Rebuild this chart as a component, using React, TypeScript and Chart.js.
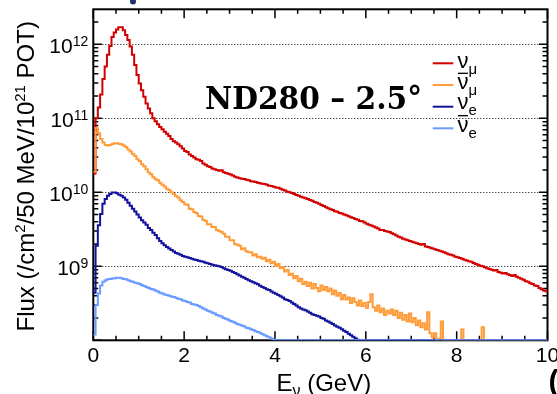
import React, { useEffect, useRef } from "react";
import { Chart, registerables } from "chart.js";

Chart.register(...registerables);

// ---------- data (flux per 50 MeV bin, bins start at 0 GeV) ----------
const BIN_WIDTH = 0.05; // GeV
const X_MIN = 0;
const X_MAX = 10;
const Y_MIN = 1e8;
const Y_MAX = 2.97e12;

const numuFlux = [
  1.8e10, 1.0e11, 1.4e11, 2.1e11, 3.4e11, 5.0e11, 7.2e11, 9.5e11, 1.25e12, 1.44e12,
  1.58e12, 1.7e12, 1.7e12, 1.55e12, 1.34e12, 1.14e12, 9.3e11, 7.2e11, 5.25e11, 3.85e11,
  2.95e11, 2.4e11, 1.95e11, 1.58e11, 1.36e11, 1.17e11, 1.0e11, 9.1e10, 8.3e10, 7.6e10,
  7.1e10, 6.6e10, 6.2e10, 5.75e10, 5.25e10, 4.9e10, 4.7e10, 4.45e10, 4.2e10, 3.9e10,
  3.6e10, 3.5e10, 3.25e10, 3.1e10, 2.95e10, 2.8e10, 2.75e10, 2.65e10, 2.45e10, 2.35e10,
  2.25e10, 2.2e10, 2.1e10, 2.05e10, 2.0e10, 1.95e10, 1.98e10, 1.86e10, 1.82e10, 1.78e10,
  1.74e10, 1.68e10, 1.62e10, 1.58e10, 1.55e10, 1.53e10, 1.51e10, 1.48e10, 1.45e10, 1.41e10,
  1.4e10, 1.38e10, 1.35e10, 1.32e10, 1.3e10, 1.29e10, 1.26e10, 1.23e10, 1.22e10, 1.19e10,
  1.16e10, 1.15e10, 1.12e10, 1.08e10, 1.06e10, 1.02e10, 1.0e10, 9.8e9, 9.45e9, 9.2e9,
  9.0e9, 8.7e9, 8.5e9, 8.3e9, 8.1e9, 7.85e9, 7.7e9, 7.4e9, 7.25e9, 7.0e9,
  6.75e9, 6.55e9, 6.3e9, 6.1e9, 5.9e9, 5.75e9, 5.55e9, 5.45e9, 5.25e9, 5.15e9,
  5.0e9, 4.9e9, 4.75e9, 4.6e9, 4.5e9, 4.35e9, 4.25e9, 4.1e9, 4.05e9, 3.9e9,
  3.75e9, 3.65e9, 3.55e9, 3.45e9, 3.35e9, 3.25e9, 3.1e9, 3.1e9, 3.0e9, 2.95e9,
  2.9e9, 2.8e9, 2.7e9, 2.6e9, 2.5e9, 2.45e9, 2.35e9, 2.3e9, 2.25e9, 2.2e9,
  2.15e9, 2.1e9, 2.05e9, 2.0e9, 1.95e9, 2.0e9, 1.85e9, 1.82e9, 1.78e9, 1.74e9,
  1.7e9, 1.66e9, 1.62e9, 1.58e9, 1.55e9, 1.5e9, 1.46e9, 1.43e9, 1.4e9, 1.35e9,
  1.32e9, 1.29e9, 1.26e9, 1.23e9, 1.2e9, 1.17e9, 1.15e9, 1.11e9, 1.07e9, 1.05e9,
  1.02e9, 1.0e9, 9.7e8, 9.4e8, 9.2e8, 9.0e8, 8.8e8, 8.9e8, 8.4e8, 8.2e8,
  8.0e8, 8.1e8, 7.8e8, 7.6e8, 7.4e8, 7.6e8, 7.2e8, 7.0e8, 6.8e8, 6.6e8,
  6.3e8, 6.2e8, 5.9e8, 5.75e8, 5.5e8, 5.4e8, 5.1e8, 4.9e8, 4.7e8, 4.6e8,
];

const numubarFlux = [
  1.9e10, 7.4e10, 6.3e10, 5.25e10, 4.7e10, 4.35e10, 4.3e10, 4.35e10, 4.5e10, 4.6e10,
  4.6e10, 4.5e10, 4.45e10, 4.3e10, 4.1e10, 3.8e10, 3.55e10, 3.3e10, 3.1e10, 2.8e10,
  2.65e10, 2.4e10, 2.25e10, 2.05e10, 1.85e10, 1.75e10, 1.6e10, 1.5e10, 1.45e10, 1.35e10,
  1.26e10, 1.2e10, 1.12e10, 1.07e10, 1.0e10, 9.5e9, 8.9e9, 8.5e9, 7.8e9, 7.4e9,
  6.9e9, 6.8e9, 6.0e9, 5.9e9, 5.4e9, 5.25e9, 4.8e9, 4.7e9, 4.25e9, 4.1e9,
  3.7e9, 3.7e9, 3.4e9, 3.4e9, 3.1e9, 3.0e9, 2.9e9, 2.75e9, 2.5e9, 2.5e9,
  2.25e9, 2.25e9, 2.0e9, 1.95e9, 1.9e9, 1.7e9, 1.75e9, 1.6e9, 1.55e9, 1.55e9,
  1.4e9, 1.45e9, 1.32e9, 1.35e9, 1.26e9, 1.3e9, 1.17e9, 1.23e9, 1.1e9, 1.15e9,
  1.02e9, 1.07e9, 9.5e8, 9.8e8, 8.5e8, 8.9e8, 7.6e8, 7.9e8, 6.9e8, 7.4e8,
  6.3e8, 6.8e8, 5.75e8, 6.2e8, 5.4e8, 6.0e8, 5.0e8, 5.75e8, 5.1e8, 4.6e8,
  5.5e8, 4.8e8, 5.25e8, 4.6e8, 5.0e8, 4.2e8, 4.7e8, 4.0e8, 4.35e8, 3.6e8,
  4.1e8, 3.55e8, 3.8e8, 3.2e8, 3.7e8, 3.3e8, 2.95e8, 3.45e8, 2.9e8, 3.2e8,
  2.75e8, 3.3e8, 4.2e8, 2.8e8, 2.5e8, 2.95e8, 2.4e8, 2.7e8, 2.2e8, 2.5e8,
  2.3e8, 2.6e8, 2.2e8, 2.5e8, 2.0e8, 2.35e8, 1.9e8, 2.2e8, 1.8e8, 2.3e8,
  1.75e8, 2.0e8, 1.6e8, 1.85e8, 1.5e8, 1.7e8, 1.4e8, 2.4e8, 1.25e8, 1.1e8,
  1.25e8, 0, 1.05e8, 1.8e8, 0, 0, 0, 0, 0, 0,
  0, 0, 1.4e8, 0, 0, 0, 0, 0, 0, 0,
  0, 1.5e8,
];

const nueFlux = [
  4.4e8, 1.9e9, 3.6e9, 5.1e9, 7.0e9, 8.1e9, 9.0e9, 9.5e9, 9.9e9, 9.9e9,
  9.7e9, 9.3e9, 9.0e9, 8.5e9, 7.9e9, 7.25e9, 6.6e9, 6.0e9, 5.5e9, 5.0e9,
  4.55e9, 4.2e9, 3.9e9, 3.65e9, 3.3e9, 3.1e9, 2.85e9, 2.65e9, 2.4e9, 2.2e9,
  2.05e9, 1.93e9, 1.82e9, 1.74e9, 1.66e9, 1.58e9, 1.51e9, 1.48e9, 1.43e9, 1.38e9,
  1.35e9, 1.32e9, 1.29e9, 1.26e9, 1.24e9, 1.22e9, 1.19e9, 1.17e9, 1.15e9, 1.12e9,
  1.1e9, 1.07e9, 1.05e9, 1.03e9, 1.02e9, 1.0e9, 9.8e8, 9.4e8, 9.1e8, 8.9e8,
  8.7e8, 8.4e8, 8.1e8, 7.8e8, 7.5e8, 7.25e8, 7.0e8, 6.75e8, 6.5e8, 6.3e8,
  6.1e8, 5.9e8, 5.7e8, 5.45e8, 5.25e8, 5.1e8, 4.9e8, 4.8e8, 4.55e8, 4.4e8,
  4.25e8, 4.1e8, 3.95e8, 3.8e8, 3.6e8, 3.5e8, 3.4e8, 3.25e8, 3.1e8, 2.95e8,
  2.8e8, 2.7e8, 2.6e8, 2.55e8, 2.45e8, 2.35e8, 2.25e8, 2.2e8, 2.15e8, 2.1e8,
  2.0e8, 1.95e8, 1.85e8, 1.8e8, 1.72e8, 1.66e8, 1.58e8, 1.53e8, 1.48e8, 1.41e8,
  1.35e8, 1.29e8, 1.23e8, 1.17e8, 1.12e8, 1.07e8, 1.02e8,
];

const nuebarFlux = [
  1.2e8, 3.0e8, 4.3e8, 5.5e8, 6.2e8, 6.5e8, 6.7e8, 6.75e8, 6.85e8, 6.9e8,
  7.0e8, 7.0e8, 6.9e8, 6.75e8, 6.7e8, 6.5e8, 6.3e8, 6.2e8, 6.0e8, 5.9e8,
  5.75e8, 5.55e8, 5.4e8, 5.25e8, 5.1e8, 4.95e8, 4.85e8, 4.7e8, 4.55e8, 4.4e8,
  4.3e8, 4.15e8, 4.1e8, 4.0e8, 3.9e8, 3.85e8, 3.75e8, 3.65e8, 3.6e8, 3.45e8,
  3.4e8, 3.3e8, 3.25e8, 3.1e8, 3.05e8, 3.0e8, 2.9e8, 2.8e8, 2.7e8, 2.6e8,
  2.5e8, 2.45e8, 2.35e8, 2.3e8, 2.2e8, 2.15e8, 2.1e8, 2.0e8, 1.95e8, 1.9e8,
  1.82e8, 1.78e8, 1.72e8, 1.66e8, 1.62e8, 1.58e8, 1.55e8, 1.48e8, 1.45e8, 1.41e8,
  1.38e8, 1.33e8, 1.29e8, 1.26e8, 1.22e8, 1.17e8, 1.13e8, 1.1e8, 1.06e8, 1.02e8,
];

const seriesColors = ["#d20000", "#ff9b38", "#12129c", "#6a9cff"];
const legendSymbols = [
  { main: "ν", sub: "μ", bar: false },
  { main: "ν", sub: "μ", bar: true },
  { main: "ν", sub: "e", bar: false },
  { main: "ν", sub: "e", bar: true },
];
const xTickLabels = ["0", "2", "4", "6", "8", "10"];
const xTickValues = [0, 2, 4, 6, 8, 10];
const yTickValues = [1e9, 1e10, 1e11, 1e12];
const yTickExponents = ["9", "10", "11", "12"];
const yAxisTitle = [
  { t: "Flux (/cm", sup: false },
  { t: "2", sup: true },
  { t: "/50 MeV/10", sup: false },
  { t: "21", sup: true },
  { t: " POT)", sup: false },
];
const annotation = "ND280 – 2.5°";

const SANS = '"Liberation Sans", Arial, Helvetica, sans-serif';

function toPoints(values: number[]) {
  const nBins = Math.round((X_MAX - X_MIN) / BIN_WIDTH);
  const pts: { x: number; y: number }[] = [];
  for (let i = 0; i < nBins; i++) {
    const v = values[i] ?? 0;
    pts.push({ x: X_MIN + i * BIN_WIDTH, y: v > 0 ? v : Y_MIN });
  }
  pts.push({ x: X_MAX, y: pts[pts.length - 1].y });
  return pts;
}

const rootStyle = {
  id: "rootStyle",
  beforeDatasetsDraw(chart: any) {
    const { ctx, chartArea: a, scales } = chart;
    const x = scales.x;
    const y = scales.y;
    ctx.save();
    ctx.strokeStyle = "#000";
    ctx.lineWidth = 1;
    ctx.setLineDash([1, 2]);
    for (const v of yTickValues) {
      const py = Math.round(y.getPixelForValue(v)) + 0.5;
      ctx.beginPath();
      ctx.moveTo(a.left, py);
      ctx.lineTo(a.right, py);
      ctx.stroke();
    }
    ctx.setLineDash([]);
    ctx.lineWidth = 2;
    ctx.strokeRect(a.left, a.top, a.right - a.left, a.bottom - a.top);
    ctx.lineWidth = 1.5;
    for (let k = 0; k <= 20; k++) {
      const v = X_MIN + k * 0.5;
      const px = x.getPixelForValue(v);
      const len = k % 4 === 0 ? 9 : 4.5;
      ctx.beginPath();
      ctx.moveTo(px, a.bottom);
      ctx.lineTo(px, a.bottom - len);
      ctx.moveTo(px, a.top);
      ctx.lineTo(px, a.top + len);
      ctx.stroke();
    }
    for (let e = 8; e <= 12; e++) {
      for (let m = 1; m <= 9; m++) {
        const v = m * Math.pow(10, e);
        if (v < Y_MIN || v > Y_MAX) continue;
        const py = y.getPixelForValue(v);
        const len = m === 1 ? 8.5 : 5;
        ctx.beginPath();
        ctx.moveTo(a.left, py);
        ctx.lineTo(a.left + len, py);
        ctx.moveTo(a.right, py);
        ctx.lineTo(a.right - len, py);
        ctx.stroke();
      }
    }
    ctx.restore();
  },
  afterDraw(chart: any) {
    const { ctx, chartArea: a, scales } = chart;
    const x = scales.x;
    const y = scales.y;
    ctx.save();
    ctx.fillStyle = "#000";
    ctx.textBaseline = "alphabetic";
    yTickValues.forEach((v, i) => {
      const py = y.getPixelForValue(v);
      ctx.font = `21px ${SANS}`;
      const w1 = ctx.measureText("10").width;
      ctx.font = `14px ${SANS}`;
      const w2 = ctx.measureText(yTickExponents[i]).width;
      const x0 = a.left - 5 - w1 - w2;
      ctx.font = `21px ${SANS}`;
      ctx.textAlign = "left";
      ctx.fillText("10", x0, py + 8.5);
      ctx.font = `14px ${SANS}`;
      ctx.fillText(yTickExponents[i], x0 + w1, py + 2);
    });
    ctx.font = `21px ${SANS}`;
    ctx.textAlign = "center";
    xTickValues.forEach((v, i) => {
      ctx.fillText(xTickLabels[i], x.getPixelForValue(v), a.bottom + 21.5);
    });
    ctx.textAlign = "left";
    let cx = 276.5;
    const xb = 390.5;
    ctx.font = `24px ${SANS}`;
    ctx.fillText("E", cx, xb);
    cx += ctx.measureText("E").width;
    ctx.font = `16px ${SANS}`;
    ctx.fillText("ν", cx, xb + 5);
    cx += ctx.measureText("ν").width;
    ctx.font = `24px ${SANS}`;
    ctx.fillText(" (GeV)", cx, xb);
    ctx.save();
    ctx.translate(33.5, 331.5);
    ctx.rotate(-Math.PI / 2);
    let tx = 0;
    for (const p of yAxisTitle) {
      ctx.font = p.sup ? `15px ${SANS}` : `24px ${SANS}`;
      ctx.fillText(p.t, tx, p.sup ? -9 : 0);
      tx += ctx.measureText(p.t).width;
    }
    ctx.restore();
    // annotation: bold serif, 32px tall, fitted to the reference width
    ctx.save();
    ctx.font = `bold 32px "DejaVu Serif", serif`;
    const aw = ctx.measureText(annotation).width;
    ctx.translate(205, 109.3);
    ctx.scale(217 / aw, 1);
    ctx.fillText(annotation, 0, 0);
    ctx.restore();
    // legend
    const lineY = [63.3, 85, 106.7, 128.3];
    const baseY = [68.3, 89.3, 108.8, 131.7];
    legendSymbols.forEach((s, i) => {
      ctx.strokeStyle = seriesColors[i];
      ctx.lineWidth = 2;
      ctx.beginPath();
      ctx.moveTo(432.7, lineY[i]);
      ctx.lineTo(453.3, lineY[i]);
      ctx.stroke();
      ctx.fillStyle = "#000";
      ctx.font = `22px ${SANS}`;
      const lx = 457.5;
      ctx.fillText(s.main, lx, baseY[i]);
      const mw = ctx.measureText(s.main).width;
      if (s.bar) {
        ctx.strokeStyle = "#000";
        ctx.lineWidth = 1.3;
        ctx.beginPath();
        ctx.moveTo(lx + 0.5, baseY[i] - 16);
        ctx.lineTo(lx + mw - 0.5, baseY[i] - 16);
        ctx.stroke();
      }
      ctx.font = `15px ${SANS}`;
      ctx.fillText(s.sub, lx + mw, baseY[i] + 6);
    });
    ctx.fillStyle = "#1d3566";
    ctx.beginPath();
    ctx.arc(133, 1.5, 3, 0, Math.PI * 2);
    ctx.fill();
    ctx.fillStyle = "#000";
    ctx.font = `bold 30px ${SANS}`;
    ctx.fillText("(", 548.5, 391);
    ctx.restore();
  },
};

export default function App() {
  const ref = useRef<HTMLCanvasElement | null>(null);
  useEffect(() => {
    const canvas = ref.current;
    if (!canvas) return;
    const series = [numuFlux, numubarFlux, nueFlux, nuebarFlux];
    const chart = new Chart(canvas, {
      type: "line",
      data: {
        datasets: series.map((vals, i) => ({
          label: legendSymbols[i].main + legendSymbols[i].sub,
          data: toPoints(vals),
          borderColor: seriesColors[i],
          borderWidth: 2,
          pointRadius: 0,
          stepped: true,
          fill: false,
          order: 3 - i,
        })),
      },
      options: {
        animation: false,
        responsive: false,
        devicePixelRatio: 1,
        layout: { padding: { left: 93.3, right: 9.5, top: 9.3, bottom: 53.7 } },
        scales: {
          x: { type: "linear", min: X_MIN, max: X_MAX, display: false },
          y: { type: "logarithmic", min: Y_MIN, max: Y_MAX, display: false },
        },
        plugins: { legend: { display: false }, tooltip: { enabled: false }, title: { display: false } },
        events: [],
      },
      plugins: [rootStyle],
    });
    return () => chart.destroy();
  }, []);
  return (
    <div style={{ position: "fixed", left: 0, top: 0, width: 557, height: 394, background: "#fff" }}>
      <canvas ref={ref} width={557} height={394} style={{ display: "block" }} />
    </div>
  );
}
